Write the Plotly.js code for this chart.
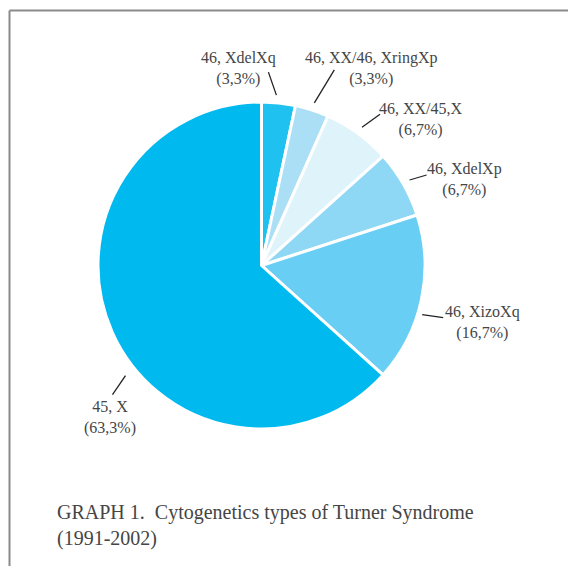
<!DOCTYPE html>
<html>
<head>
<meta charset="utf-8">
<script src="https://cdn.plot.ly/plotly-3.0.1.min.js"></script>
<style>html,body{margin:0;padding:0;background:#fff;}#chart{width:568px;height:566px;}</style>
</head>
<body>
<div id="chart"></div>
<script>
// ---- data ----
var categories = ["46, XdelXq", "46, XX/46, XringXp", "46, XX/45,X", "46, XdelXp", "46, XizoXq", "45, X"];
var counts = [1, 1, 2, 2, 5, 19];
var percentLabels = ["(3,3%)", "(3,3%)", "(6,7%)", "(6,7%)", "(16,7%)", "(63,3%)"];
var captionLines = ["GRAPH 1.&nbsp; Cytogenetics types of Turner Syndrome", "(1991-2002)"];

// ---- styles / layout ----
var colors = ["#1ec1f0", "#abdff6", "#dff3fb", "#8fd8f5", "#69cef4", "#00b9ef"];
var W = 568, H = 566;
var cx = 261.5, cy = 265.5, R = 163.5;
// leader line: angle shift (deg), anchor radius, outer end offset (px), text block centre (px)
var anchorShift = [-1, 0, 0, 0, 5, -15];
var anchorRad = [171, 171, 171, 171, 168, 175];
var lineEnd = [[-8, -23], [20, -33], [18, -13], [17, -5], [21, 3], [-13, 19]];
var textPos = [[238, 69], [371, 69], [421, 119.5], [464, 179], [482, 322], [109.5, 417]];

function px(x) { return x / W; }
function py(y) { return 1 - y / H; }

var total = counts.reduce(function (a, b) { return a + b; }, 0);
var shapes = [
  {type: "line", xref: "paper", yref: "paper", x0: px(9.5), x1: 1, y0: py(10.5), y1: py(10.5), line: {color: "#8a8a8a", width: 2}},
  {type: "line", xref: "paper", yref: "paper", x0: px(9.5), x1: px(9.5), y0: py(10.5), y1: 0, line: {color: "#8a8a8a", width: 2}}
];
var annotations = [];
var cum = 0;
for (var i = 0; i < counts.length; i++) {
  var mid = (cum + counts[i] / 2) / total * 360 + anchorShift[i];
  cum += counts[i];
  var a = mid * Math.PI / 180;
  var ax = cx + anchorRad[i] * Math.sin(a);
  var ay = cy - anchorRad[i] * Math.cos(a);
  shapes.push({type: "line", xref: "paper", yref: "paper",
    x0: px(ax), y0: py(ay), x1: px(ax + lineEnd[i][0]), y1: py(ay + lineEnd[i][1]),
    line: {color: "#222", width: 1.3}});
  annotations.push({xref: "paper", yref: "paper", x: px(textPos[i][0]), y: py(textPos[i][1]),
    xanchor: "center", yanchor: "middle", showarrow: false, align: "center",
    text: categories[i] + "<br>" + percentLabels[i],
    font: {family: "Liberation Serif, serif", size: 16, color: "#454545"}});
}
annotations.push({xref: "paper", yref: "paper", x: px(55), y: py(525), xanchor: "left", yanchor: "middle",
  showarrow: false, align: "left", text: captionLines.join("<br>"),
  font: {family: "Liberation Serif, serif", size: 20, color: "#454545"}});

var trace = {
  type: "pie",
  labels: categories,
  values: counts,
  sort: false,
  direction: "clockwise",
  rotation: 0,
  marker: {colors: colors, line: {color: "#ffffff", width: 3}},
  textinfo: "none",
  textposition: "none",
  hoverinfo: "none",
  showlegend: false,
  domain: {x: [px(cx - R), px(cx + R)], y: [py(cy + R), py(cy - R)]}
};

Plotly.newPlot("chart", [trace], {
  width: W, height: H,
  margin: {l: 0, r: 0, t: 0, b: 0},
  paper_bgcolor: "#ffffff",
  showlegend: false,
  shapes: shapes,
  annotations: annotations
}, {staticPlot: true});
</script>
</body>
</html>
